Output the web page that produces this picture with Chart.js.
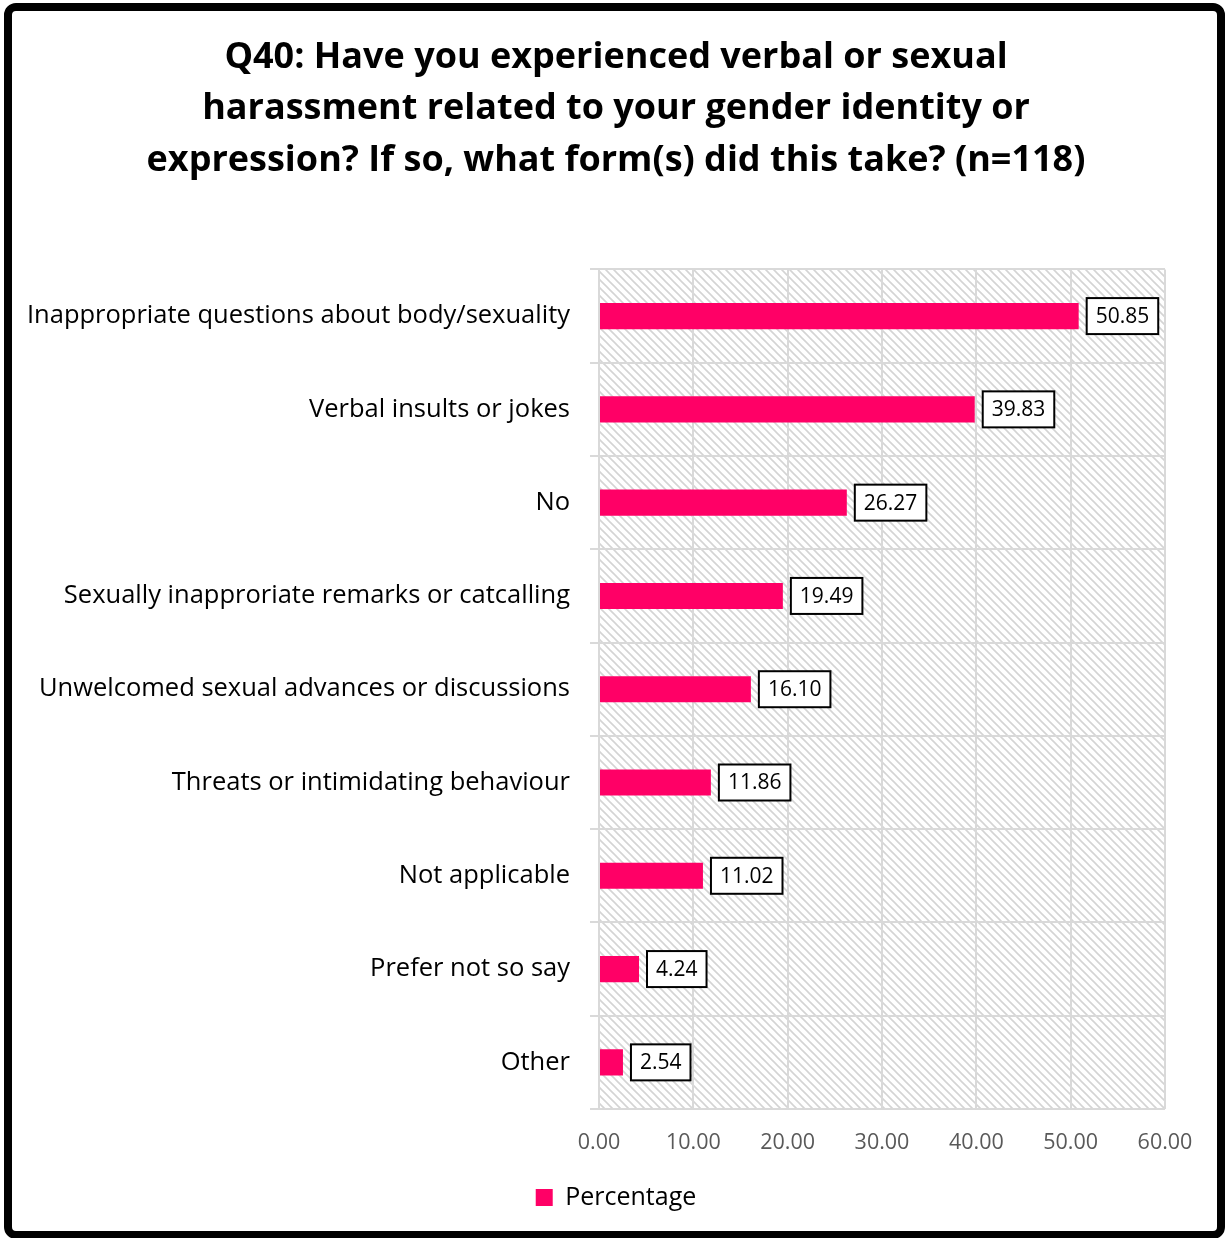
<!DOCTYPE html>
<html>
<head>
<meta charset="utf-8">
<script src="https://cdn.jsdelivr.net/npm/chart.js@4"></script>
<style>
html,body{margin:0;padding:0;background:#fff;}
#wrap{width:1225px;height:1238px;position:relative;}
</style>
</head>
<body>
<div id="wrap"><canvas id="c" width="1225" height="1238"></canvas></div>
<script>
const titleLines = [
  "Q40: Have you experienced verbal or sexual",
  "harassment related to your gender identity or",
  "expression? If so, what form(s) did this take? (n=118)"
];
const categories = [
  "Inappropriate questions about body/sexuality",
  "Verbal insults or jokes",
  "No",
  "Sexually inapproriate remarks or catcalling",
  "Unwelcomed sexual advances or discussions",
  "Threats or intimidating behaviour",
  "Not applicable",
  "Prefer not so say",
  "Other"
];
const percentages = [50.85, 39.83, 26.27, 19.49, 16.10, 11.86, 11.02, 4.24, 2.54];
const seriesName = "Percentage";
const xTicks = [0, 10, 20, 30, 40, 50, 60];

const FONT = "'Open Sans', 'Noto Sans', sans-serif";
const PINK = "#FF0066";
const GRID = "#d9d9d9";

function makeHatch(ctx) {
  const t = document.createElement('canvas');
  t.width = 8; t.height = 8;
  const g = t.getContext('2d');
  g.fillStyle = '#ffffff';
  g.fillRect(0, 0, 8, 8);
  g.strokeStyle = '#d4d4d4';
  g.lineWidth = 1.6;
  g.beginPath();
  g.moveTo(-2, -2); g.lineTo(10, 10);
  g.moveTo(-10, -2); g.lineTo(2, 10);
  g.moveTo(6, -2); g.lineTo(18, 10);
  g.stroke();
  return ctx.createPattern(t, 'repeat');
}

const hatchPlugin = {
  id: 'hatch',
  beforeDraw(chart) {
    const {ctx, chartArea: a} = chart;
    ctx.save();
    ctx.fillStyle = makeHatch(ctx);
    ctx.fillRect(a.left, a.top, a.right - a.left, a.bottom - a.top);
    ctx.restore();
  }
};

const labelPlugin = {
  id: 'boxLabels',
  afterDatasetsDraw(chart) {
    const {ctx} = chart;
    const meta = chart.getDatasetMeta(0);
    const vals = chart.data.datasets[0].data;
    ctx.save();
    ctx.font = "21px " + FONT;
    meta.data.forEach((el, i) => {
      const txt = vals[i].toFixed(2);
      const w = ctx.measureText(txt).width + 18;
      const h = 36;
      const x0 = el.x + 8;
      const y0 = el.y - h / 2;
      ctx.fillStyle = '#fff';
      ctx.fillRect(x0, y0, w, h);
      ctx.lineWidth = 2;
      ctx.strokeStyle = '#000';
      ctx.strokeRect(x0, y0, w, h);
      ctx.fillStyle = '#000';
      ctx.textAlign = 'center';
      ctx.textBaseline = 'middle';
      ctx.fillText(txt, x0 + w / 2, el.y + 1);
    });
    ctx.restore();
  }
};

const framePlugin = {
  id: 'frame',
  afterDraw(chart) {
    const {ctx} = chart;
    ctx.save();
    ctx.lineWidth = 8;
    ctx.strokeStyle = '#000';
    ctx.beginPath();
    ctx.roundRect(8, 7, 1213, 1228, 8);
    ctx.stroke();
    ctx.restore();
  }
};

new Chart(document.getElementById('c'), {
  type: 'bar',
  data: {
    labels: categories,
    datasets: [{
      label: seriesName,
      data: percentages,
      backgroundColor: PINK,
      borderWidth: 0,
      barPercentage: 0.28,
      categoryPercentage: 1
    }]
  },
  options: {
    indexAxis: 'y',
    responsive: false,
    animation: false,
    devicePixelRatio: 1,
    layout: { padding: { left: 0, right: -7, top: 0, bottom: 18 } },
    plugins: {
      title: {
        display: true,
        text: titleLines,
        color: '#000',
        font: { family: FONT, size: 36, weight: 'bold', lineHeight: 1.43 },
        padding: { top: 32, bottom: 83 }
      },
      legend: {
        display: true,
        position: 'bottom',
        labels: {
          color: '#000',
          font: { family: FONT, size: 25 },
          boxWidth: 17,
          boxHeight: 17,
          padding: 10
        }
      },
      tooltip: { enabled: false }
    },
    scales: {
      x: {
        min: 0,
        max: 60,
        afterBuildTicks(scale) { scale.ticks = xTicks.map(v => ({ value: v })); },
        afterFit(scale) { scale.height = 66; },
        ticks: {
          color: '#595959',
          font: { family: FONT, size: 21.5 },
          padding: 21,
          callback: v => Number(v).toFixed(2)
        },
        grid: { color: GRID, lineWidth: 2, drawTicks: false },
        border: { display: false }
      },
      y: {
        afterFit(scale) { scale.width = 599; },
        ticks: {
          color: '#000',
          font: { family: FONT, size: 25.5 },
          padding: 20
        },
        grid: { color: GRID, lineWidth: 2, tickLength: 9, offset: true },
        border: { color: GRID, width: 2 }
      },
      yRightSpace: {
        type: 'category',
        position: 'right',
        afterFit(scale) { scale.width = 67; },
        ticks: { display: false },
        grid: { display: false, drawTicks: false },
        border: { display: false }
      }
    }
  },
  plugins: [hatchPlugin, labelPlugin, framePlugin]
});
</script>
</body>
</html>
